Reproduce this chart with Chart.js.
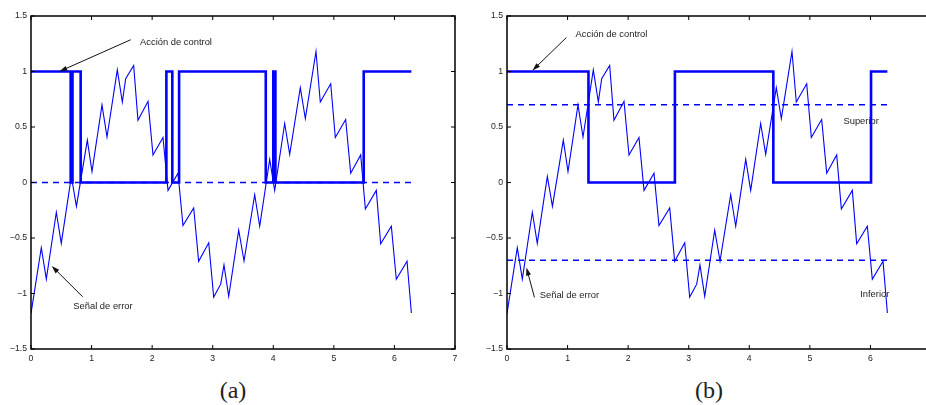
<!DOCTYPE html>
<html>
<head>
<meta charset="utf-8">
<script src="https://cdn.jsdelivr.net/npm/chart.js@4.4.1/dist/chart.umd.min.js"></script>
<style>
  html, body { margin: 0; padding: 0; background: #fff; overflow: hidden; width: 926px; height: 405px; }
  canvas { position: absolute; top: 0; }
  .etiqueta { position: absolute; top: 378px; width: 60px; text-align: center; font-family: "Liberation Serif", "DejaVu Serif", serif; font-size: 24px; line-height: 24px; color: #222; }
</style>
</head>
<body>
<canvas id="graficoA" width="470" height="370" style="left:0px"></canvas>
<canvas id="graficoB" width="470" height="370" style="left:476px"></canvas>
<div class="etiqueta" style="left:203px">(a)</div>
<div class="etiqueta" style="left:679px">(b)</div>

<script>
// Señal de error (igual en los dos casos)
const tiempo = [0, 0.17, 0.253, 0.418, 0.5, 0.666, 0.75, 0.93, 1.007, 1.172, 1.255, 1.425, 1.508, 1.563, 1.695,
    1.766, 1.932, 2.014, 2.179, 2.262, 2.427, 2.509, 2.686, 2.768, 2.934, 3.016, 3.132, 3.186, 3.264, 3.429,
    3.517, 3.693, 3.776, 3.941, 4.023, 4.188, 4.271, 4.446, 4.529, 4.705, 4.776, 4.948, 5.024, 5.195, 5.278,
    5.443, 5.52, 5.701, 5.773, 5.949, 6.031, 6.208, 6.28];
const error = [-1.18, -0.587, -0.871, -0.268, -0.549, 0.054, -0.215, 0.382, 0.099, 0.70, 0.41, 1.015, 0.725, 0.935, 1.054,
    0.561, 0.731, 0.248, 0.406, -0.071, 0.084, -0.388, -0.229, -0.71, -0.543, -1.032, -0.916, -0.743, -1.026, -0.43,
    -0.707, -0.11, -0.394, 0.209, -0.071, 0.532, 0.254, 0.854, 0.576, 1.18, 0.725, 0.89, 0.406, 0.567, 0.084,
    0.248, -0.238, -0.071, -0.552, -0.394, -0.871, -0.71, -1.176];

// Acción de control: instantes de conmutación y nivel a partir de cada uno
const tCambioA = [0, 0.655, 0.685, 0.82, 2.235, 2.333, 2.445, 3.876, 4.0, 4.035, 5.493, 6.28];
const nivelA = [1, 0, 1, 0, 1, 0, 1, 0, 1, 0, 1, 1];
const tCambioB = [0, 1.345, 2.772, 4.397, 6.01, 6.28];
const nivelB = [1, 0, 1, 0, 1, 1];

// Umbrales (líneas discontinuas)
const umbralesA = [0];
const umbralesB = [0.7, -0.7];
const tFinal = 6.28;

// Marcas de los ejes
const marcasX = [0, 1, 2, 3, 4, 5, 6, 7];
const marcasY = [-1.5, -1, -0.5, 0, 0.5, 1, 1.5];

// Textos y flechas, en coordenadas de los datos
const textosA = [
    { texto: 'Acción de control', t: 1.80, v: 1.26 },
    { texto: 'Señal de error', t: 0.698, v: -1.119 }
];
const flechasA = [
    { desde: [1.646, 1.286], hasta: [0.467, 1.0] },
    { desde: [0.854, -1.03], hasta: [0.342, -0.752] }
];
const textosB = [
    { texto: 'Acción de control', t: 1.131, v: 1.338 },
    { texto: 'Superior', t: 5.554, v: 0.546 },
    { texto: 'Señal de error', t: 0.54, v: -1.02 },
    { texto: 'Inferior', t: 5.83, v: -1.012 }
];
const flechasB = [
    { desde: [0.982, 1.307], hasta: [0.42, 1.009] },
    { desde: [0.453, -1.035], hasta: [0.321, -0.766] }
];

const azul = '#0000ff';
const fuente = '"Liberation Sans", Arial, sans-serif';

function puntos(xs, ys) {
    return xs.map((x, i) => ({ x: x, y: ys[i] }));
}

// Caja de ejes con marcas hacia dentro (estilo MATLAB) y anotaciones
const cajaEjes = {
    id: 'cajaEjes',
    afterDatasetsDraw(chart, args, opts) {
        const ctx = chart.ctx;
        const a = chart.chartArea;
        const sx = chart.scales.x, sy = chart.scales.y;
        ctx.save();
        ctx.strokeStyle = '#000';
        ctx.lineWidth = 1.5;
        ctx.strokeRect(a.left, a.top, a.right - a.left, a.bottom - a.top);
        ctx.lineWidth = 1;
        ctx.beginPath();
        marcasX.forEach(m => {
            const px = sx.getPixelForValue(m);
            ctx.moveTo(px, a.bottom); ctx.lineTo(px, a.bottom - 4);
            ctx.moveTo(px, a.top); ctx.lineTo(px, a.top + 4);
        });
        marcasY.forEach(m => {
            const py = sy.getPixelForValue(m);
            ctx.moveTo(a.left, py); ctx.lineTo(a.left + 4, py);
            ctx.moveTo(a.right, py); ctx.lineTo(a.right - 4, py);
        });
        ctx.stroke();

        // textos
        ctx.fillStyle = '#222';
        ctx.font = '9.4px ' + fuente;
        ctx.textAlign = 'left';
        ctx.textBaseline = 'middle';
        opts.textos.forEach(o => {
            ctx.fillText(o.texto, sx.getPixelForValue(o.t), sy.getPixelForValue(o.v));
        });

        // flechas
        ctx.strokeStyle = '#111';
        ctx.fillStyle = '#111';
        ctx.lineWidth = 1;
        opts.flechas.forEach(f => {
            const x0 = sx.getPixelForValue(f.desde[0]), y0 = sy.getPixelForValue(f.desde[1]);
            const x1 = sx.getPixelForValue(f.hasta[0]), y1 = sy.getPixelForValue(f.hasta[1]);
            const ang = Math.atan2(y1 - y0, x1 - x0);
            ctx.beginPath();
            ctx.moveTo(x0, y0);
            ctx.lineTo(x1 - 6 * Math.cos(ang), y1 - 6 * Math.sin(ang));
            ctx.stroke();
            ctx.beginPath();
            ctx.moveTo(x1, y1);
            ctx.lineTo(x1 - 8 * Math.cos(ang) + 2.5 * Math.sin(ang), y1 - 8 * Math.sin(ang) - 2.5 * Math.cos(ang));
            ctx.lineTo(x1 - 8 * Math.cos(ang) - 2.5 * Math.sin(ang), y1 - 8 * Math.sin(ang) + 2.5 * Math.cos(ang));
            ctx.closePath();
            ctx.fill();
        });
        ctx.restore();
    }
};

function crearGrafico(idCanvas, tCambio, nivel, umbrales, textos, flechas) {
    const datasets = [
        {
            data: puntos(tiempo, error),
            borderColor: azul,
            borderWidth: 1.1,
            pointRadius: 0,
            tension: 0
        },
        {
            data: puntos(tCambio, nivel),
            borderColor: azul,
            borderWidth: 2.6,
            pointRadius: 0,
            stepped: true
        }
    ];
    umbrales.forEach(u => {
        datasets.push({
            data: puntos([0, tFinal], [u, u]),
            borderColor: azul,
            borderWidth: 1.4,
            borderDash: [6, 5],
            pointRadius: 0
        });
    });

    const ctx = document.getElementById(idCanvas).getContext('2d');
    return new Chart(ctx, {
        type: 'line',
        data: { datasets: datasets },
        options: {
            responsive: false,
            animation: false,
            devicePixelRatio: 1,
            layout: { padding: { top: 16, right: 15, bottom: 0, left: 0 } },
            plugins: {
                legend: { display: false },
                tooltip: { enabled: false },
                cajaEjes: { textos: textos, flechas: flechas }
            },
            scales: {
                x: {
                    type: 'linear',
                    min: 0,
                    max: 7,
                    afterBuildTicks: s => { s.ticks = marcasX.map(v => ({ value: v })); },
                    afterFit: s => { s.height = 21; },
                    grid: { display: false, drawTicks: false },
                    border: { display: false },
                    ticks: { color: '#222', padding: 4, maxRotation: 0, font: { family: fuente, size: 8.7 } }
                },
                y: {
                    type: 'linear',
                    min: -1.5,
                    max: 1.5,
                    afterBuildTicks: s => { s.ticks = marcasY.map(v => ({ value: v })); },
                    afterFit: s => { s.width = 31; },
                    grid: { display: false, drawTicks: false },
                    border: { display: false },
                    ticks: {
                        color: '#222',
                        padding: 4,
                        font: { family: fuente, size: 8.7 },
                        callback: v => String(v).replace('-', '\u2212')
                    }
                }
            }
        },
        plugins: [cajaEjes]
    });
}

crearGrafico('graficoA', tCambioA, nivelA, umbralesA, textosA, flechasA);
crearGrafico('graficoB', tCambioB, nivelB, umbralesB, textosB, flechasB);
</script>
</body>
</html>
